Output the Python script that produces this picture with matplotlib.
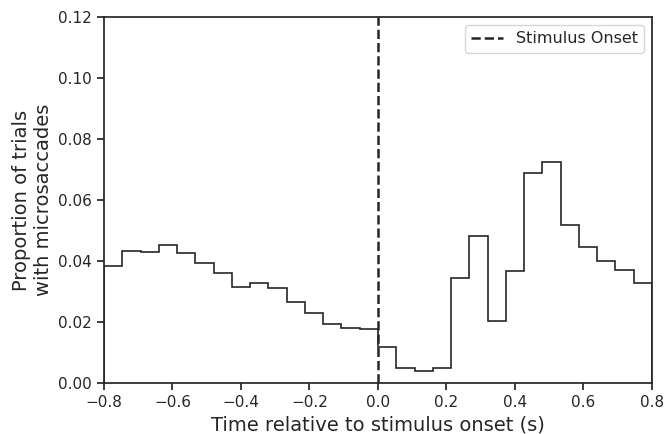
import matplotlib
matplotlib.use("Agg")
import matplotlib.pyplot as plt
import numpy as np
import seaborn as sns

sns.set_theme(style="ticks")
plt.rcParams['font.family'] = ['DejaVu Sans']

bin_edges = np.linspace(-0.8, 0.8, 31)
proportions = [0.0385, 0.0434, 0.0430, 0.0451, 0.0427, 0.0392, 0.0360, 0.0316,
               0.0328, 0.0310, 0.0267, 0.0229, 0.0194, 0.0181, 0.0178,
               0.0119, 0.0048, 0.0039, 0.0048, 0.0343, 0.0482, 0.0204, 0.0366,
               0.0689, 0.0726, 0.0518, 0.0447, 0.0401, 0.0370, 0.0329]
onset = 0.0

fig = plt.figure(figsize=(6.67, 4.34), dpi=100)
ax = fig.add_axes([104/667, 1-383/434, (652-104)/667, (383-17)/434])
ax.stairs(proportions, bin_edges, color='#262626', linewidth=1.2)
ax.axvline(onset, color='#262626', linestyle='--', linewidth=1.8, label='Stimulus Onset')
ax.set_xlim(-0.8, 0.8)
ax.set_ylim(0, 0.12)
ax.set_xticks(np.arange(-0.8, 0.81, 0.2))
ax.set_yticks(np.arange(0, 0.121, 0.02))
ax.tick_params(labelsize=11, length=5)
ax.set_xlabel('Time relative to stimulus onset (s)', fontsize=14)
ax.set_ylabel('Proportion of trials\nwith microsaccades', fontsize=14)
ax.legend(loc='upper right', fontsize=11.5)
fig.savefig('out.png', dpi=100)
